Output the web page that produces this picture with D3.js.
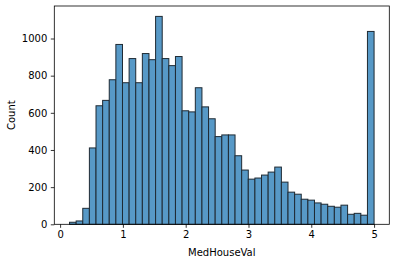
<!DOCTYPE html>
<html lang="en">
<head>
    <meta charset="UTF-8">
    <title>MedHouseVal histogram</title>
    <script src="https://d3js.org/d3.v7.min.js"></script>
    <style>
        body { margin: 0; background: #fff; }
        svg { display: block; font-family: "DejaVu Sans", sans-serif; }
    </style>
</head>
<body>
    <svg width="395" height="262"></svg>

    <script>
        // Histogram of MedHouseVal: 46 equal bins between the data min and max
        const binStart = 0.14999;
        const binEnd = 5.00001;
        const counts = [11, 18, 86, 411, 638, 667, 778, 968, 762, 892,
                        762, 919, 886, 1119, 892, 854, 903, 611, 605, 735,
                        632, 568, 472, 481, 481, 369, 292, 243, 249, 265,
                        281, 308, 227, 173, 162, 135, 130, 115, 108, 97,
                        92, 103, 54, 59, 49, 1038];
        const xTicks = [0, 1, 2, 3, 4, 5];
        const yTicks = [0, 200, 400, 600, 800, 1000];

        const binWidth = (binEnd - binStart) / counts.length;
        const bins = counts.map((c, i) => ({
            x0: binStart + i * binWidth,
            x1: binStart + (i + 1) * binWidth,
            count: c
        }));

        const svg = d3.select("svg"),
              margin = {top: 6, right: 5.7, bottom: 37.7, left: 54.3},
              width = +svg.attr("width") - margin.left - margin.right,
              height = +svg.attr("height") - margin.top - margin.bottom;

        const g = svg.append("g").attr("transform", `translate(${margin.left},${margin.top})`);

        // matplotlib-style 5% margins
        const span = binEnd - binStart;
        const x = d3.scaleLinear()
            .domain([binStart - 0.05 * span, binEnd + 0.05 * span])
            .range([0, width]);
        const y = d3.scaleLinear()
            .domain([0, d3.max(counts) * 1.05])
            .range([height, 0]);

        // Bars
        g.selectAll("rect.bar")
            .data(bins)
            .join("rect")
            .attr("class", "bar")
            .attr("x", d => x(d.x0))
            .attr("y", d => y(d.count))
            .attr("width", d => x(d.x1) - x(d.x0))
            .attr("height", d => y(0) - y(d.count))
            .attr("fill", "#5799c7")
            .attr("stroke", "#1f2a33")
            .attr("stroke-width", 1);

        // Axes
        const xAxis = g.append("g")
            .attr("transform", `translate(0,${height})`)
            .call(d3.axisBottom(x).tickValues(xTicks).tickFormat(d3.format("d"))
                .tickSize(3.5).tickPadding(3.5));
        const yAxis = g.append("g")
            .call(d3.axisLeft(y).tickValues(yTicks).tickFormat(d3.format("d"))
                .tickSize(3.5).tickPadding(3.5));

        [xAxis, yAxis].forEach(a => {
            a.select(".domain").remove();
            a.selectAll("line").attr("stroke", "#000").attr("stroke-width", 0.8);
            a.selectAll("text").attr("fill", "#000").style("font-size", "10px")
                .style("font-family", "DejaVu Sans, sans-serif");
        });

        // Frame
        g.append("rect")
            .attr("width", width)
            .attr("height", height)
            .attr("fill", "none")
            .attr("stroke", "#000")
            .attr("stroke-width", 0.8);

        // Axis labels
        svg.append("text")
            .attr("x", margin.left + width / 2)
            .attr("y", 256)
            .attr("text-anchor", "middle")
            .style("font-size", "10px")
            .text("MedHouseVal");

        svg.append("text")
            .attr("transform", `translate(15,${margin.top + height / 2}) rotate(-90)`)
            .attr("text-anchor", "middle")
            .style("font-size", "10px")
            .text("Count");
    </script>
</body>
</html>
